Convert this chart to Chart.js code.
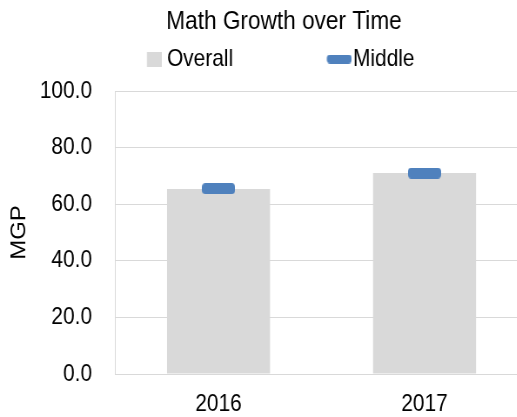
<!DOCTYPE html>
<html><head><meta charset="utf-8">
<script src="https://cdn.jsdelivr.net/npm/chart.js@4.4.1/dist/chart.umd.min.js"></script>
<style>
html,body{margin:0;padding:0;background:#fff;overflow:hidden;width:517px;height:417px;}
#wrap{position:absolute;left:0;top:0;width:630px;height:440px;transform:scaleX(0.87);transform-origin:0 0;}
</style></head><body>
<div id="wrap"><canvas id="c" width="630" height="440"></canvas></div>
<script>
// ---- data ----
const categories = ['2016', '2017'];
const overallValues = [65.4, 71.0];
const middleValues = [65.5, 71.0];
const yTickValues = [0, 20, 40, 60, 80, 100];
const seriesNames = ['Overall', 'Middle'];
const chartTitle = 'Math Growth over Time';
const yAxisTitle = 'MGP';

// ---- styling (horizontal values in page px, converted to the squeezed canvas) ----
const S = 0.87;
const px = v => v / S;
const FONT = "'Liberation Sans',Arial,sans-serif";
const GRAY = '#D9D9D9';
const BLUE = '#4F81BD';
const LP = 20;               // legend padding
const TITLE_CX = px(284);
const LEGEND_CY = 59;

const mctx = document.createElement('canvas').getContext('2d');
mctx.font = '24px ' + FONT;
const w1 = mctx.measureText(seriesNames[0]).width;
const text1X = px(167), text2X = px(353);
const BOXW = text2X - 12 - (text1X + w1 + LP);
const LEGEND_START = text1X - BOXW - 12;
const c1 = LEGEND_START + BOXW / 2;
const c2 = text1X + w1 + LP + BOXW / 2;

function makeImg(w, h, bw, bh, r, color) {
  const c = document.createElement('canvas');
  c.width = w; c.height = h;
  const g = c.getContext('2d');
  g.fillStyle = color;
  g.beginPath();
  const x0 = w - bw;
  if (r > 0) g.roundRect(x0, (h - bh) / 2, bw, bh, r); else g.rect(x0, (h - bh) / 2, bw, bh);
  g.fill();
  return c;
}
const markerImg = makeImg(38, 11, 38, 11, 4, BLUE);
const imgW1 = Math.round(2 * (px(162) - c1));
const imgW2 = Math.round(2 * (px(352) - c2));
const legendOverallImg = makeImg(imgW1, 15, px(15), 15, 0, GRAY);
const legendMiddleImg = makeImg(imgW2, 9, px(25), 9, 4, BLUE);

const shiftPlugin = {
  id: 'shiftBlocks',
  afterLayout(chart) {
    const t = chart.titleBlock;
    if (t) { const d = TITLE_CX - (t.left + t.right) / 2; t.left += d; t.right += d; }
    const L = chart.legend;
    if (L && L.lineWidths) {
      const start = (L.left + LP + L.right - L.lineWidths[0]) / 2;
      const d = LEGEND_START - start;
      L.left += d; L.right += d;
      const dy = LEGEND_CY - (L.top + LP + 12);
      L.top += dy; L.bottom += dy;
    }
  }
};

new Chart(document.getElementById('c'), {
  data: {
    labels: categories,
    datasets: [
      { type: 'line', label: seriesNames[1], data: middleValues, showLine: false,
        pointStyle: markerImg, pointRadius: 6, pointHoverRadius: 6, order: 0 },
      { type: 'bar', label: seriesNames[0], data: overallValues, backgroundColor: GRAY,
        borderWidth: 0, categoryPercentage: 1.0, barPercentage: 0.5, order: 1 }
    ]
  },
  options: {
    responsive: false,
    animation: false,
    devicePixelRatio: 1,
    layout: { padding: { left: 0, right: 630 - px(527.5), top: 0, bottom: 6 } },
    plugins: {
      tooltip: { enabled: false },
      title: { display: true, text: chartTitle, color: '#000',
        font: { family: FONT, size: 26, weight: 'normal' }, padding: { top: 5.8, bottom: 0 } },
      legend: {
        display: true, position: 'top',
        labels: {
          usePointStyle: true, pointStyleWidth: BOXW, padding: LP, color: '#000',
          font: { family: FONT, size: 24 },
          generateLabels: () => [
            { text: seriesNames[0], pointStyle: legendOverallImg, fillStyle: GRAY, strokeStyle: GRAY, lineWidth: 0, hidden: false, datasetIndex: 1, fontColor: '#000' },
            { text: seriesNames[1], pointStyle: legendMiddleImg, fillStyle: BLUE, strokeStyle: BLUE, lineWidth: 0, hidden: false, datasetIndex: 0, fontColor: '#000' }
          ]
        }
      }
    },
    scales: {
      x: {
        grid: { display: false, drawTicks: false },
        border: { display: true, color: GRAY, width: 1 },
        ticks: { color: '#000', font: { family: FONT, size: 24 }, padding: 15.6, maxRotation: 0 }
      },
      y: {
        min: 0, max: 100,
        afterBuildTicks: (axis) => { axis.ticks = yTickValues.map(v => ({ value: v })); },
        grid: { color: GRAY, lineWidth: 1, drawTicks: false },
        border: { display: true, color: GRAY, width: 1 },
        ticks: { color: '#000', font: { family: FONT, size: 24 }, padding: px(115.5) - px(92),
          callback: (v) => Number(v).toFixed(1) },
        afterFit: (axis) => { axis.width = px(115.5); },
        title: { display: true, text: yAxisTitle, color: '#000',
          font: { family: FONT, size: 24 }, padding: { top: px(19.6) - 14.4, bottom: 0 } }
      }
    }
  },
  plugins: [shiftPlugin]
});
</script>
</body></html>
